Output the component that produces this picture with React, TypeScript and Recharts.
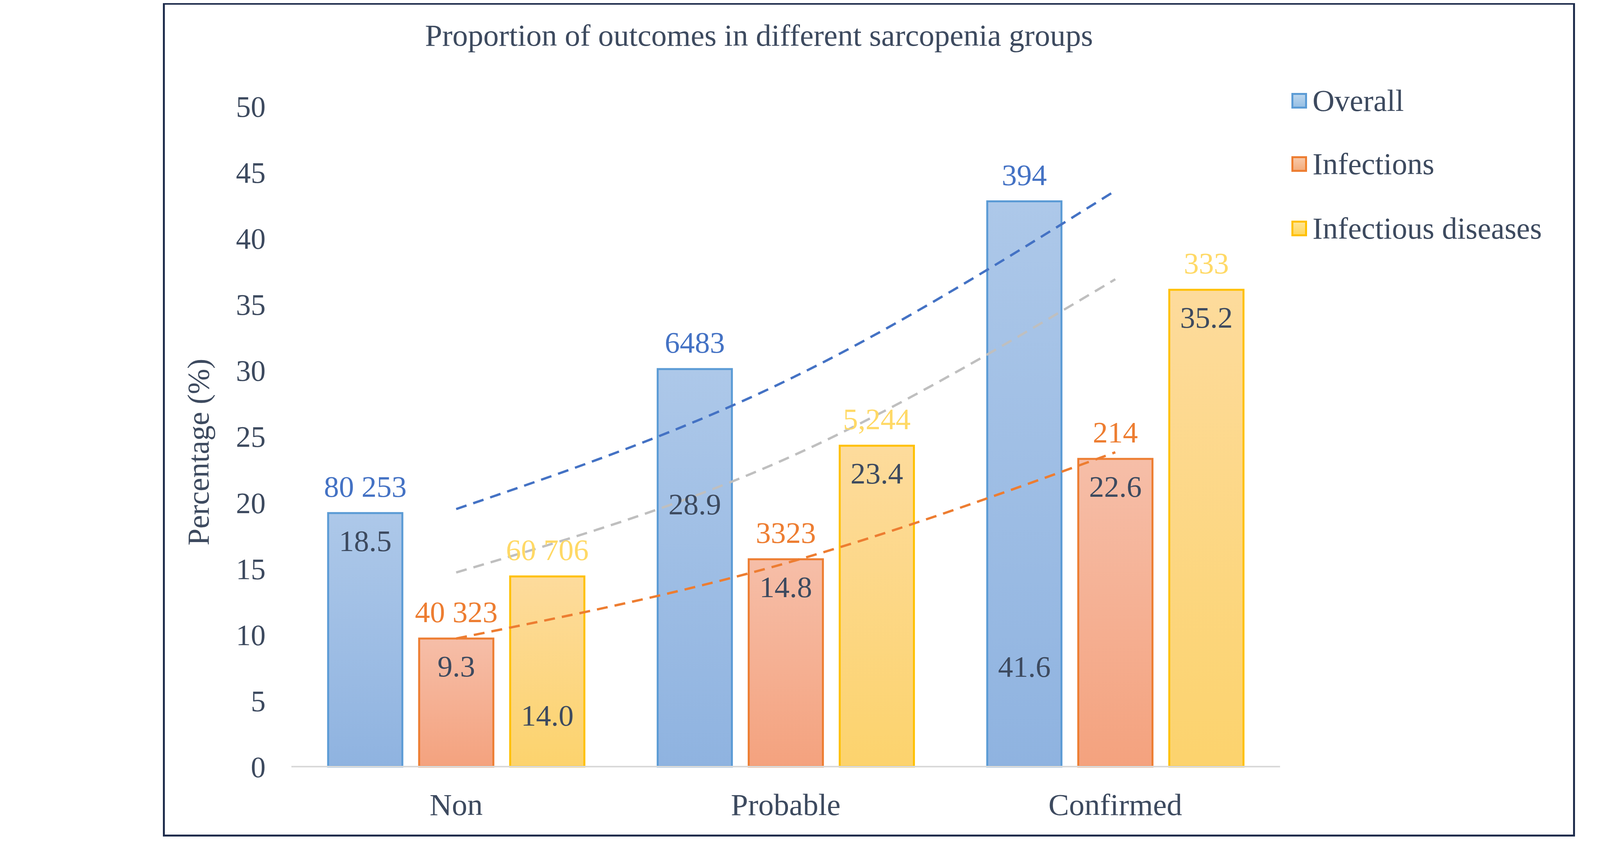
import React from "react";
import { ComposedChart, Bar, Line, XAxis, YAxis, LabelList } from "recharts";

const categories = ["Non", "Probable", "Confirmed"];
const overall = [19.2, 30.1, 42.8];
const infections = [9.7, 15.7, 23.3];
const infDiseases = [14.4, 24.3, 36.1];
const overallPct = ["18.5", "28.9", "41.6"];
const infectionsPct = ["9.3", "14.8", "22.6"];
const infDiseasesPct = ["14.0", "23.4", "35.2"];
const overallN = ["80 253", "6483", "394"];
const infectionsN = ["40 323", "3323", "214"];
const infDiseasesN = ["60 706", "5,244", "333"];
const trendOverall = [19.5, 29.2, 43.6];
const trendInfections = [9.7, 15.4, 23.8];
const trendInfDiseases = [14.7, 23.3, 36.9];
const yTicks = [0, 5, 10, 15, 20, 25, 30, 35, 40, 45, 50];

const data = categories.map((c, i) => ({
  cat: c,
  overall: overall[i], infections: infections[i], infDiseases: infDiseases[i],
  oP: overallPct[i], iP: infectionsPct[i], dP: infDiseasesPct[i],
  oN: overallN[i], iN: infectionsN[i], dN: infDiseasesN[i],
  tO: trendOverall[i], tI: trendInfections[i], tD: trendInfDiseases[i],
}));

const FONT = "'Liberation Serif', 'Times New Roman', serif";
const TXT = "#3d4a5f";

// extra downward shift (px) of some inside labels, as in the reference
const overallLabelShift = [0, 275, 1120];
const infDiseasesLabelShift = [285, 0, 0];

const topLabel = (color: string) => (p: any) => (
  <text x={p.x + p.width / 2} y={p.y - 42} textAnchor="middle" fill={color} fontSize={77} fontFamily={FONT}>{p.value}</text>
);
const inLabel = (shift?: number[]) => (p: any) => (
  <text x={p.x + p.width / 2} y={p.y + 97 + (shift ? shift[p.index] || 0 : 0)} textAnchor="middle" fill={TXT} fontSize={77} fontFamily={FONT}>{p.value}</text>
);

const legend = [
  { name: "Overall", stroke: "#5b9bd5", top: 255 },
  { name: "Infections", stroke: "#ed7d31", top: 417 },
  { name: "Infectious diseases", stroke: "#ffc000", top: 582 },
];

export default function App() {
  return (
    <div style={{ position: "relative", width: 4433, height: 2140, fontFamily: FONT }}>
      <div style={{ position: "absolute", left: 409, top: -4, width: 3615, height: 2138, border: "5px solid #1f2d4d", borderTopWidth: 8, boxSizing: "border-box" }} />
      <div style={{ position: "absolute", left: 0, width: 3870, top: 38, textAlign: "center", fontSize: 79, color: TXT }}>
        Proportion of outcomes in different sarcopenia groups
      </div>
      <ComposedChart width={4433} height={2140} data={data} margin={{ top: 264, right: 1164, left: 438, bottom: 125 }} barSize={190} barGap={43}>
        <defs>
          <linearGradient id="gB" x1="0" y1="0" x2="0" y2="1"><stop offset="0%" stopColor="#adc8e9" /><stop offset="100%" stopColor="#8fb3e0" /></linearGradient>
          <linearGradient id="gO" x1="0" y1="0" x2="0" y2="1"><stop offset="0%" stopColor="#f6bea8" /><stop offset="100%" stopColor="#f4a27e" /></linearGradient>
          <linearGradient id="gY" x1="0" y1="0" x2="0" y2="1"><stop offset="0%" stopColor="#fddb9c" /><stop offset="100%" stopColor="#fcd36d" /></linearGradient>
        </defs>
        <XAxis dataKey="cat" height={60} axisLine={{ stroke: "#d9d9d9", strokeWidth: 4 }} tickLine={false} tick={{ fontSize: 79, fill: TXT, fontFamily: FONT, dy: 60 }} />
        <YAxis width={300} domain={[0, 50]} ticks={yTicks} axisLine={false} tickLine={false} tickMargin={60} tick={{ fontSize: 76, fill: TXT, fontFamily: FONT }}
          label={(p: any) => {
            const vb = p.viewBox;
            const cx = 497 - 8 + 10;
            const cy = vb.y + vb.height / 2 + 40;
            return <text x={cx} y={cy} transform={`rotate(-90 ${cx} ${cy})`} textAnchor="middle" dominantBaseline="central" fontSize={78} fill={TXT} fontFamily={FONT}>Percentage (%)</text>;
          }} />
        <Bar dataKey="overall" fill="url(#gB)" stroke="#5b9bd5" strokeWidth={5} isAnimationActive={false}>
          <LabelList dataKey="oN" content={topLabel("#4472c4")} />
          <LabelList dataKey="oP" content={inLabel(overallLabelShift)} />
        </Bar>
        <Bar dataKey="infections" fill="url(#gO)" stroke="#ed7d31" strokeWidth={5} isAnimationActive={false}>
          <LabelList dataKey="iN" content={topLabel("#ed7d31")} />
          <LabelList dataKey="iP" content={inLabel()} />
        </Bar>
        <Bar dataKey="infDiseases" fill="url(#gY)" stroke="#ffc000" strokeWidth={5} isAnimationActive={false}>
          <LabelList dataKey="dN" content={topLabel("#ffd966")} />
          <LabelList dataKey="dP" content={inLabel(infDiseasesLabelShift)} />
        </Bar>
        <Line dataKey="tO" type="natural" stroke="#4472c4" strokeWidth={6} strokeDasharray="28 18" dot={false} isAnimationActive={false} />
        <Line dataKey="tD" type="natural" stroke="#bfbfbf" strokeWidth={6} strokeDasharray="28 18" dot={false} isAnimationActive={false} />
        <Line dataKey="tI" type="natural" stroke="#ed7d31" strokeWidth={6} strokeDasharray="28 18" dot={false} isAnimationActive={false} />
      </ComposedChart>
      {legend.map((l, i) => (
        <div key={l.name} style={{ position: "absolute", left: 3298, top: l.top - 50, display: "flex", alignItems: "center", fontSize: 78, color: TXT }}>
          <svg width={40} height={40} style={{ marginRight: 14 }}>
            <defs>
              <linearGradient id={"L" + i} x1="0" y1="0" x2="0" y2="1">
                <stop offset="0%" stopColor={l.stroke} stopOpacity={0.4} /><stop offset="100%" stopColor={l.stroke} stopOpacity={0.65} />
              </linearGradient>
            </defs>
            <rect x={2.5} y={2.5} width={35} height={35} fill={"url(#L" + i + ")"} stroke={l.stroke} strokeWidth={5} />
          </svg>
          {l.name}
        </div>
      ))}
    </div>
  );
}
